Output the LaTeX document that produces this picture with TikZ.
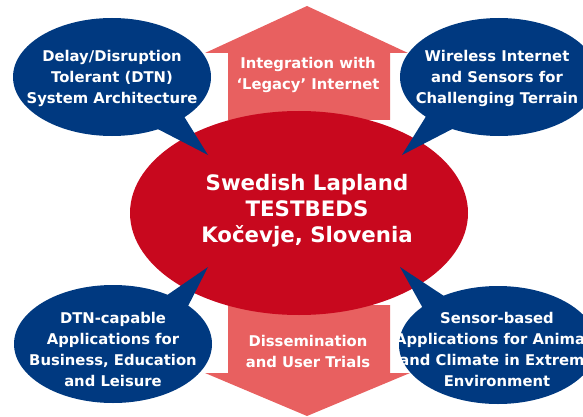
\documentclass[tikz,border=0pt]{standalone}
\usepackage{fontspec}
\setmainfont{DejaVu Sans}
\usetikzlibrary{shapes.geometric}
\definecolor{arrowpink}{RGB}{232,96,96}
\definecolor{hubred}{RGB}{200,8,30}
\definecolor{bubbleblue}{RGB}{0,57,128}
\tikzset{
  bubble/.style={ellipse, fill=bubbleblue, inner sep=0pt, minimum width=198pt, minimum height=118pt},
  bubtext/.style={text=white, font=\bfseries\fontsize{14.8}{21}\selectfont, align=center, inner sep=0pt},
  hubtext/.style={text=white, font=\bfseries\fontsize{21.3}{26}\selectfont, align=center, inner sep=0pt},
  bigarrow/.style={fill=arrowpink},
  pointer/.style={fill=bubbleblue}
}
\begin{document}
\begin{tikzpicture}[x=1pt,y=-1pt]
\useasboundingbox (0,0) rectangle (583,417);
\clip (0,0) rectangle (583,417);
% big arrows
\fill[bigarrow] (228,120) -- (228,53) -- (205,53) -- (307,6) -- (408,53) -- (390,53) -- (390,120) -- cycle;
\fill[bigarrow] (228,305) -- (228,373) -- (205,373) -- (307,416) -- (410,373) -- (390,373) -- (390,305) -- cycle;
\node[bubtext] (up) at (308,75) {Integration with\\‘Legacy’ Internet};
\node[bubtext] (down) at (308,351) {Dissemination\\and User Trials};
% hub
\node[ellipse, fill=hubred, minimum width=338pt, minimum height=204pt, inner sep=0pt] (hub) at (299,213) {};
\node[hubtext] (hubt) at (307,211) {Swedish Lapland\\TESTBEDS\\Kočevje, Slovenia};
% bubbles
\node[bubble] (tl) at (112,77) {};
\node[bubble] (tr) at (499,77) {};
\node[bubble] (bl) at (113,344) {};
\node[bubble] (br) at (498,345) {};
\coordinate (tlA) at (180,110);
\coordinate (tlB) at (150,125);
\coordinate (tlT) at (208,155);
\coordinate (trA) at (430,110);
\coordinate (trB) at (460,125);
\coordinate (trT) at (402,155);
\coordinate (blA) at (160,300);
\coordinate (blB) at (185,312);
\coordinate (blT) at (208,267);
\coordinate (brA) at (425,312);
\coordinate (brB) at (450,300);
\coordinate (brT) at (400,267);
\fill[pointer] (tlA) -- (tlT) -- (tlB) -- (tl.center) -- cycle;
\fill[pointer] (trA) -- (trT) -- (trB) -- (tr.center) -- cycle;
\fill[pointer] (blA) -- (blT) -- (blB) -- (bl.center) -- cycle;
\fill[pointer] (brA) -- (brT) -- (brB) -- (br.center) -- cycle;
\node[bubtext] (tlt) at (112,78) {Delay/Disruption\\Tolerant (DTN)\\System Architecture};
\node[bubtext] (trt) at (497,78) {Wireless Internet\\and Sensors for\\Challenging Terrain};
\node[bubtext] (blt) at (113,349) {DTN-capable\\Applications for\\Business, Education\\and Leisure};
\node[bubtext] (brt) at (497,349) {Sensor-based\\Applications for Animals\\and Climate in Extreme\\Environment};
\end{tikzpicture}
\end{document}
